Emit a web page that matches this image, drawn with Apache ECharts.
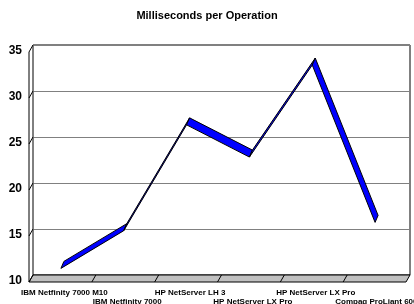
<!DOCTYPE html>
<html>
<head>
<meta charset="utf-8">
<script src="https://cdn.jsdelivr.net/npm/echarts@6/dist/echarts.min.js"></script>
<style>
html,body{margin:0;padding:0;background:#fff;}
#main{width:414px;height:304px;}
</style>
</head>
<body>
<div id="main"></div>
<script>
// 数据
var titleText = 'Milliseconds per Operation';
var categories = ['IBM Netfinity 7000 M10', 'IBM Netfinity 7000', 'HP NetServer LH 3', 'HP NetServer LX Pro', 'HP NetServer LX Pro', 'Compaq ProLiant 6000'];
var msPerOp = [11.1, 15.2, 26.7, 23.2, 33.2, 16.1];
var yTicks = [10, 15, 20, 25, 30, 35];

// 布局
var gridLeft = 33, gridRight = 4, gridTop = 45, gridBottom = 29;
var depthX = 4, depthY = 7;

var chart = echarts.init(document.getElementById('main'));

// 3D带状线 每段画一个平行四边形
var ribbon = function (params, api) {
    var i = params.dataIndex;
    if (i === 0) return;
    var a = api.coord([i - 1, msPerOp[i - 1]]);
    var b = api.coord([i, api.value(1)]);
    var fx = -3.5, fy = 3.5, bx = -0.5, by = -3.5;
    return {
        type: 'polygon',
        shape: {points: [
            [a[0] + fx, a[1] + fy], [b[0] + fx, b[1] + fy],
            [b[0] + bx, b[1] + by], [a[0] + bx, a[1] + by]
        ]},
        style: {fill: '#0000ff', stroke: '#000', lineWidth: 1}
    };
};

var option = {
    animation: false,
    title: {
        text: titleText, left: 'center', top: 5,
        textStyle: {fontFamily: 'Liberation Sans', fontSize: 11, fontWeight: 'bold', color: '#000'}
    },
    grid: {
        left: gridLeft, right: gridRight, top: gridTop, bottom: gridBottom,
        outerBoundsMode: 'none',
        show: true, borderColor: '#000', borderWidth: 1, backgroundColor: 'transparent'
    },
    xAxis: {
        type: 'category', data: categories, boundaryGap: true,
        axisLine: {show: false}, axisTick: {show: false},
        axisLabel: {
            interval: 0, margin: 13, lineHeight: 9, hideOverlap: false,
            fontFamily: 'Liberation Sans', fontSize: 8, fontWeight: 'bold', color: '#000',
            formatter: function (v, idx) { return idx % 2 ? '\n' + v : v; }
        }
    },
    yAxis: {
        type: 'value', min: yTicks[0], max: yTicks[yTicks.length - 1], interval: 5,
        axisLine: {show: false}, axisTick: {show: false},
        splitLine: {lineStyle: {color: '#808080', width: 1}},
        axisLabel: {
            margin: 11, lineHeight: 12, verticalAlign: 'top',
            fontFamily: 'Liberation Sans', fontSize: 12, fontWeight: 'bold', color: '#000'
        }
    },
    series: [{
        type: 'custom', renderItem: ribbon,
        data: msPerOp.map(function (v, i) { return [i, v]; }),
        z: 5
    }]
};
chart.setOption(option);

// 画地板和左墙（装饰）
var W = 414, H = 304;
var xl = gridLeft, xr = W - gridRight;
var yb = chart.convertToPixel({yAxisIndex: 0}, yTicks[0]);
var yt = chart.convertToPixel({yAxisIndex: 0}, yTicks[yTicks.length - 1]);
var els = [];
els.push({
    type: 'polygon',
    shape: {points: [[xl, yb], [xr, yb], [xr - depthX, yb + depthY], [xl - depthX, yb + depthY]]},
    style: {fill: '#c0c0c0', stroke: '#000', lineWidth: 1}, z: 1
});
var band = (xr - xl) / categories.length;
for (var k = 1; k < categories.length; k++) {
    var x = xl + band * k;
    els.push({type: 'line', shape: {x1: x, y1: yb, x2: x - depthX, y2: yb + depthY},
        style: {stroke: '#000', lineWidth: 1}, z: 2});
}
els.push({type: 'line', shape: {x1: xl - depthX, y1: yt + depthY, x2: xl - depthX, y2: yb + depthY},
    style: {stroke: '#000', lineWidth: 1}, z: 2});
for (var j = 0; j < yTicks.length; j++) {
    var y = chart.convertToPixel({yAxisIndex: 0}, yTicks[j]);
    els.push({type: 'line', shape: {x1: xl, y1: y, x2: xl - depthX, y2: y + depthY},
        style: {stroke: '#000', lineWidth: 1}, z: 2});
}
chart.setOption({graphic: els});
</script>
</body>
</html>
